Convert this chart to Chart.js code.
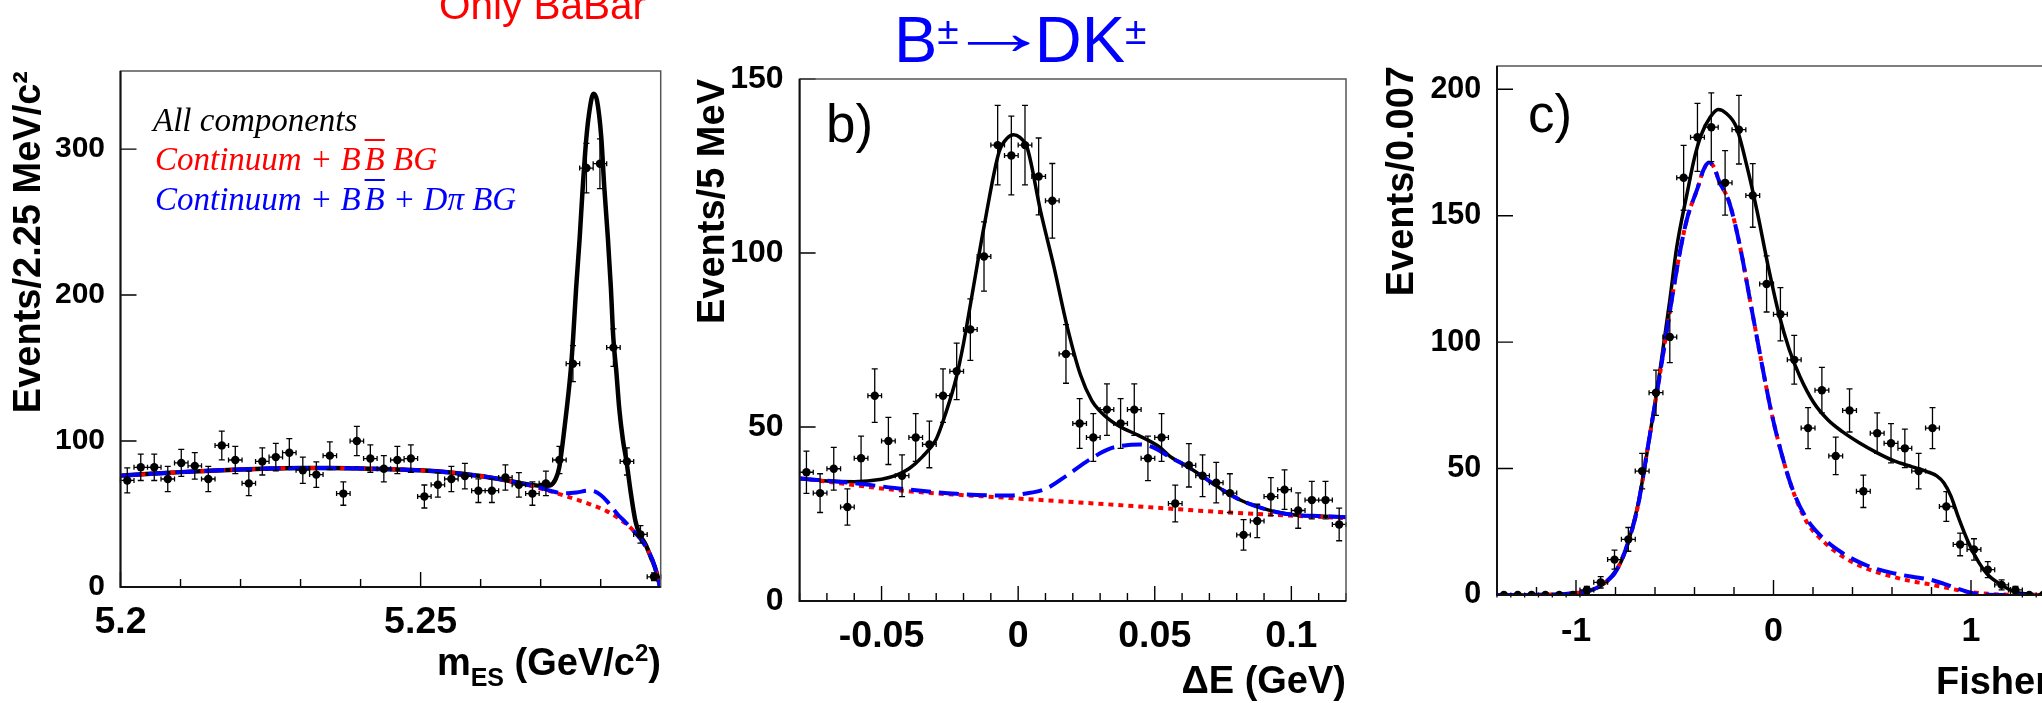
<!DOCTYPE html>
<html>
<head>
<meta charset="utf-8">
<script src="https://cdn.jsdelivr.net/npm/chart.js@4.4.1/dist/chart.umd.min.js"></script>
<style>
html,body{margin:0;padding:0;width:2042px;height:703px;overflow:hidden;background:#fff;}
.pane{position:absolute;top:0;}
.txt{position:absolute;white-space:nowrap;line-height:1;font-family:"Liberation Sans",Arial,sans-serif;}
.leg{position:absolute;white-space:nowrap;line-height:1;font-family:"Liberation Serif","Times New Roman",serif;font-style:italic;font-size:33px;}
.ov{text-decoration:overline;text-decoration-thickness:2px;}
.pm{font-size:39px;position:relative;top:-18px;}
.arr{display:inline-block;transform:translateY(-8px) scaleX(1.6);transform-origin:0 50%;margin-left:-12px;margin-right:23px;}
</style>
</head>
<body>
<div class="pane" style="left:0px;width:700px;height:703px"><canvas id="ca" width="700" height="703"></canvas></div>
<div class="pane" style="left:680px;width:690px;height:703px"><canvas id="cb" width="690" height="703"></canvas></div>
<div class="pane" style="left:1380px;width:720px;height:703px"><canvas id="cc" width="720" height="703"></canvas></div>

<div class="txt" style="left:439px;top:-15px;font-size:40.5px;color:#ff0000;">Only BaBar</div>
<div class="txt" style="left:894px;top:7px;font-size:65px;color:#0000ff;">B<span class="pm">±</span><span class="arr">→</span>DK<span class="pm">±</span></div>

<div class="leg" style="left:153px;top:104px;color:#000;">All components</div>
<div class="leg" style="left:155px;top:143px;color:#ff0000;">Continuum + B<span class="ov" style="margin-left:4px;">B</span> BG</div>
<div class="leg" style="left:155px;top:183px;color:#0000ff;">Continuum + B<span class="ov" style="margin-left:4px;">B</span> + Dπ BG</div>

<div class="txt" style="right:1381px;top:643px;font-size:38px;font-weight:bold;">m<span style="font-size:25px;position:relative;top:11px;">ES</span> (GeV/c<span style="font-size:24px;position:relative;top:-14px;">2</span>)</div>

<div class="txt" style="left:826px;top:97px;font-size:53px;">b)</div>
<div class="txt" style="left:1528px;top:87px;font-size:53px;">c)</div>

<script>
// ================= Panel a : m_ES =================
const aBinCenters = [5.201125,5.203375,5.205625,5.207875,5.210125,5.212375,5.214625,5.216875,5.219125,5.221375,
  5.223625,5.225875,5.228125,5.230375,5.232625,5.234875,5.237125,5.239375,5.241625,5.243875,
  5.246125,5.248375,5.250625,5.252875,5.255125,5.257375,5.259625,5.261875,5.264125,5.266375,
  5.268625,5.270875,5.273125,5.275375,5.277625,5.279875,5.282125,5.284375,5.286625,5.288875];
const aCounts = [73,82,82,74,85,83,74,97,87,71, 86,89,92,80,77,90,64,100,88,81,
  87,88,62,70,74,76,66,66,75,70, 64,71,87,153,287,290,164,86,36,7];
const aTotalX = [5.2000,5.2050,5.2100,5.2150,5.2200,5.2250,5.2300,5.2350,5.2400,5.2450,5.2500,5.2550,5.2600,5.2650,5.2680,5.2705,5.2715,5.2725,5.2731,5.2740,5.2750,5.2754,5.2759,5.2765,5.2770,5.2776,5.2782,5.2788,5.2794,5.2801,5.2806,5.2812,5.2817,5.2821,5.2826,5.2831,5.2837,5.2843,5.2850,5.2858,5.2865,5.2875,5.2884,5.2890,5.2895,5.2899];
const aTotalY = [76.3,77.6,78.7,79.7,80.5,81.1,81.5,81.5,81.2,80.7,80.0,78.5,76.0,72.5,70.2,69.2,69.5,74,82,110,148,170,204,239,273,307,328,338,333,308,274,239,205,171,148,122,101,86,65,45,36,29,20,14,7,0];
const aBkgDpiX = [5.2000,5.2100,5.2200,5.2300,5.2400,5.2500,5.2550,5.2600,5.2650,5.2680,5.2700,5.2720,5.2740,5.2760,5.2780,5.2790,5.2800,5.2810,5.2820,5.2830,5.2840,5.2850,5.2860,5.2870,5.2880,5.2886,5.2890,5.2895,5.2899];
const aBkgDpiY = [76.3,78.7,80.5,81.5,81.2,80.0,78.5,76.0,72.5,69.9,68.0,65.5,64.2,64.8,66.0,65.5,63.0,59.0,54.0,49.0,45.0,40.5,36.0,31.0,24.0,19.0,14.0,7.0,0];
const aBkgX = [5.2000,5.2100,5.2200,5.2300,5.2400,5.2500,5.2550,5.2600,5.2650,5.2700,5.2740,5.2780,5.2810,5.2830,5.2850,5.2870,5.2880,5.2890,5.2895,5.2899];
const aBkgY = [76.3,78.7,80.5,81.5,81.2,80.0,78.5,76.0,72.5,67.5,62.5,57.0,52.0,47.0,40.5,31.0,24.0,14.0,7.0,0];
const aXTicks = [5.20,5.21,5.22,5.23,5.24,5.25,5.26,5.27,5.28];
const aXLabelVals = [5.20,5.25];
const aXLabelText = ['5.2','5.25'];
const aYTicks = [0,100,200,300];
const aYTitle = 'Events/2.25 MeV/c\u00B2';

// ================= Panel b : Delta E =================
const bBinCenters = [-0.0775,-0.0725,-0.0675,-0.0625,-0.0575,-0.0525,-0.0475,-0.0425,-0.0375,-0.0325,
  -0.0275,-0.0225,-0.0175,-0.0125,-0.0075,-0.0025,0.0025,0.0075,0.0125,0.0175,
  0.0225,0.0275,0.0325,0.0375,0.0425,0.0475,0.0525,0.0575,0.0625,0.0675,
  0.0725,0.0775,0.0825,0.0875,0.0925,0.0975,0.1025,0.1075,0.1125,0.1175];
const bCounts = [37,31,38,27,41,59,46,36,47,45, 59,66,78,99,131,128,131,122,115,71,
  51,47,55,51,55,41,47,28,39,36, 34,31,19,23,30,32,26,29,29,22];
const bTotalX = [-0.0800,-0.0700,-0.0600,-0.0500,-0.0450,-0.0400,-0.0350,-0.0300,-0.0265,-0.0227,-0.0200,-0.0173,-0.0124,-0.0070,-0.0040,-0.0017,0.0005,0.0034,0.0082,0.0131,0.0179,0.0228,0.0270,0.0300,0.0336,0.0375,0.0440,0.0518,0.0557,0.0623,0.0688,0.0753,0.0819,0.0884,0.0949,0.1014,0.1100,0.1200];
const bTotalY = [35.1,34.5,34.3,35.0,36.0,38.0,41.5,46.5,54,64,74,86,108,129,133,134,133.3,130,112,96,79,65,57.5,54.5,52,50,47.6,44.2,41.5,38.5,35.1,31.7,28.8,26.9,25.5,24.7,24.4,24.1];
const bBkgDpiX = [-0.0800,-0.0604,-0.0422,-0.0226,-0.0030,0.0022,0.0100,0.0179,0.0257,0.0336,0.0414,0.0446,0.0492,0.0557,0.0623,0.0688,0.0753,0.0819,0.0884,0.0949,0.1014,0.1100,0.1200];
const bBkgDpiY = [35.2,33.9,32.2,30.8,30.3,30.8,32.2,36.1,40.4,43.8,44.9,45.0,44.2,41.3,38.5,35.1,31.7,28.8,26.9,25.5,24.7,24.4,24.1];
const bBkgX = [-0.0800,-0.0422,-0.0030,0.0362,0.0753,0.1200];
const bBkgY = [35.3,31.7,29.6,27.6,25.5,23.8];
const bXTicks = [-0.08,-0.07,-0.06,-0.05,-0.04,-0.03,-0.02,-0.01,0,0.01,0.02,0.03,0.04,0.05,0.06,0.07,0.08,0.09,0.10,0.11,0.12];
const bXLabelVals = [-0.05,0,0.05,0.10];
const bXLabelText = ['-0.05','0','0.05','0.1'];
const bYTicks = [0,50,100,150];
const bYTitle = 'Events/5 MeV';
const bXTitle = '\u0394E (GeV)';

// ================= Panel c : Fisher =================
const cBinCenters = [-1.365,-1.295,-1.225,-1.155,-1.085,-1.015,-0.945,-0.875,-0.805,-0.735,
  -0.665,-0.595,-0.525,-0.455,-0.385,-0.315,-0.245,-0.175,-0.105,-0.035,
  0.035,0.105,0.175,0.245,0.315,0.385,0.455,0.525,0.595,0.665,
  0.735,0.805,0.875,0.945,1.015,1.085,1.155,1.225,1.295,1.365];
const cCounts = [0,0,0,0,0,0,2,5,14,22, 49,80,102,165,181,185,163,184,158,123,
  111,93,66,81,55,73,41,64,60,58, 49,66,35,20,18,10,4,2,0,0];
const cTotalX = [-1.400,-1.100,-1.000,-0.920,-0.850,-0.795,-0.758,-0.731,-0.704,-0.687,-0.651,-0.633,-0.606,-0.580,-0.562,-0.526,-0.491,-0.437,-0.400,-0.366,-0.320,-0.280,-0.240,-0.188,-0.134,-0.081,-0.027,0.026,0.080,0.133,0.204,0.275,0.347,0.436,0.525,0.614,0.703,0.774,0.828,0.863,0.899,0.934,0.988,1.041,1.085,1.150,1.215,1.300,1.400];
const cTotalY = [0,0.2,0.8,2,5,10,15.5,22,30,35.5,51,60,73,86,96,116,137,159,173,182,189,192,190.5,185,169.4,151,130,111.5,97,86.5,76,69.3,64.7,60.1,56.2,52.9,50.7,48.9,47,44.3,39,31.2,20.6,12.7,8,4.2,1.4,0.3,0];
const cBkgDpiX = [-1.400,-1.100,-1.000,-0.920,-0.850,-0.793,-0.731,-0.687,-0.633,-0.580,-0.526,-0.473,-0.437,-0.384,-0.355,-0.327,-0.300,-0.277,-0.223,-0.170,-0.116,-0.063,-0.010,0.044,0.097,0.169,0.258,0.347,0.436,0.525,0.614,0.703,0.786,0.860,0.930,1.000,1.080,1.200,1.400];
const cBkgDpiY = [0,0.2,0.8,2,5,10,22,35,60,85,111.5,136,149,161,168,171,169,164,155,138,115.4,93,72,55,41.7,30,22,16.7,12.9,10.2,8.5,7.2,6.2,4.5,2.6,0.9,0.1,0,0];
const cBkgX = [-1.400,-1.100,-1.000,-0.920,-0.850,-0.793,-0.731,-0.687,-0.633,-0.580,-0.526,-0.473,-0.437,-0.384,-0.355,-0.327,-0.300,-0.277,-0.223,-0.170,-0.116,-0.063,-0.010,0.044,0.097,0.169,0.258,0.347,0.436,0.525,0.614,0.703,0.786,0.860,0.930,1.000,1.100,1.200,1.300,1.400];
const cBkgY = [0,0.2,0.8,2,5,10,22,35,60,85,111.5,136,149,161,168,171,169,164,155,138,115.4,93,72,55,41.5,28.8,20.8,15.4,11.6,9,7,5.4,4.3,3.1,2,1.1,0.4,0.1,0,0];
const cXTicks = [-1.4,-1.2,-1.0,-0.8,-0.6,-0.4,-0.2,0,0.2,0.4,0.6,0.8,1.0,1.2,1.4];
const cXLabelVals = [-1,0,1];
const cXLabelText = ['-1','0','1'];
const cYTicks = [0,50,100,150,200];
const cYTitle = 'Events/0.007';
const cXTitle = 'Fisher';

// ================= helpers =================
const FAM = "'Liberation Sans', Arial, Helvetica, sans-serif";
const pts = (xs, ys) => xs.map((x, i) => ({x: x, y: ys[i]}));
const near = (a, b) => Math.abs(a - b) < 1e-9;

const errorBars = {
  id: 'errorBars',
  afterDatasetsDraw(chart) {
    const {ctx, scales: {x, y}} = chart;
    chart.data.datasets.forEach(ds => {
      if (!ds.binHalf) return;
      ctx.save();
      ctx.strokeStyle = '#000';
      ctx.lineWidth = 1.3;
      ctx.beginPath();
      ds.data.forEach(p => {
        const px = x.getPixelForValue(p.x), py = y.getPixelForValue(p.y);
        const xl = x.getPixelForValue(p.x - ds.binHalf), xr = x.getPixelForValue(p.x + ds.binHalf);
        ctx.moveTo(xl, py); ctx.lineTo(xr, py);
        ctx.moveTo(xl, py - 2.5); ctx.lineTo(xl, py + 2.5);
        ctx.moveTo(xr, py - 2.5); ctx.lineTo(xr, py + 2.5);
        const e = Math.sqrt(p.y);
        if (e > 0) {
          const yt = y.getPixelForValue(p.y + e), yb = y.getPixelForValue(Math.max(p.y - e, 0));
          ctx.moveTo(px, yt); ctx.lineTo(px, yb);
          ctx.moveTo(px - 3, yt); ctx.lineTo(px + 3, yt);
          ctx.moveTo(px - 3, yb); ctx.lineTo(px + 3, yb);
        }
      });
      ctx.stroke();
      ctx.restore();
    });
  }
};

const rootFrame = {
  id: 'rootFrame',
  afterDraw(chart) {
    const {ctx, chartArea: ca, scales: {x, y}} = chart;
    ctx.save();
    ctx.strokeStyle = '#000';
    ctx.lineWidth = 1.4;
    ctx.beginPath();
    x.ticks.forEach(t => {
      const p = x.getPixelForValue(t.value);
      const len = t.isMajor ? 15 : 8;
      ctx.moveTo(p, ca.bottom); ctx.lineTo(p, ca.bottom - len);
    });
    y.ticks.forEach(t => {
      const p = y.getPixelForValue(t.value);
      ctx.moveTo(ca.left, p); ctx.lineTo(ca.left + 16, p);
    });
    ctx.stroke();
    ctx.strokeStyle = '#555';
    ctx.lineWidth = 1.5;
    ctx.strokeRect(ca.left, ca.top, ca.right - ca.left, ca.bottom - ca.top);
    ctx.strokeStyle = '#111';
    ctx.lineWidth = 2;
    ctx.beginPath();
    ctx.moveTo(ca.left, ca.top); ctx.lineTo(ca.left, ca.bottom); ctx.lineTo(ca.right, ca.bottom);
    ctx.stroke();
    ctx.restore();
  }
};

function makeChart(id, g) {
  const datasets = [
    {label: 'data', data: pts(g.bins, g.counts), binHalf: g.binHalf,
     pointRadius: 4.2, pointBackgroundColor: '#000', pointBorderColor: '#000', pointBorderWidth: 0, showLine: false},
    {label: 'Continuum + BB + Dpi BG', data: pts(g.dpiX, g.dpiY), showLine: true, pointRadius: 0,
     borderColor: '#0000ff', borderWidth: 4, borderDash: [20, 8], tension: 0.4, cubicInterpolationMode: 'monotone', fill: false},
    {label: 'Continuum + BB BG', data: pts(g.bkgX, g.bkgY), showLine: true, pointRadius: 0,
     borderColor: '#ff0000', borderWidth: 4, borderDash: [5, 5], tension: 0.4, cubicInterpolationMode: 'monotone', fill: false},
    {label: 'All components', data: pts(g.totX, g.totY), showLine: true, pointRadius: 0,
     borderColor: '#000', borderWidth: g.totWidth, tension: 0.4, cubicInterpolationMode: 'monotone', fill: false}
  ];
  return new Chart(document.getElementById(id), {
    type: 'scatter',
    data: {datasets: datasets},
    plugins: [errorBars, rootFrame],
    options: {
      responsive: false, animation: false, devicePixelRatio: 1, events: [],
      layout: {padding: {left: 0, top: g.top, right: g.right, bottom: 0}},
      plugins: {legend: {display: false}, tooltip: {enabled: false}},
      scales: {
        x: {
          type: 'linear', min: g.xMin, max: g.xMax,
          afterFit: s => { s.height = g.xAxisH; },
          afterBuildTicks: s => { s.ticks = g.xTicks.map(v => ({value: v, isMajor: g.xLabelVals.some(m => near(m, v))})); },
          grid: {display: false, drawTicks: false},
          border: {display: false},
          ticks: {
            autoSkip: false, maxRotation: 0, minRotation: 0, color: '#000', padding: g.xLabPad,
            font: {family: FAM, size: g.xLabSize, weight: 'bold', lineHeight: 1},
            callback: v => { const i = g.xLabelVals.findIndex(m => near(m, v)); return i >= 0 ? g.xLabelText[i] : ''; }
          },
          title: g.xTitle ? {display: true, text: g.xTitle, align: 'end', color: '#000',
            font: {family: FAM, size: 38, weight: 'bold', lineHeight: 1}, padding: {top: 0, bottom: g.xTitlePad}} : {display: false}
        },
        y: {
          type: 'linear', min: 0, max: g.yMax,
          afterFit: s => { s.width = g.yAxisW; },
          afterBuildTicks: s => { s.ticks = g.yTicks.map(v => ({value: v, isMajor: true})); },
          grid: {display: false, drawTicks: false},
          border: {display: false},
          ticks: {
            autoSkip: false, color: '#000', padding: g.yLabPad,
            font: {family: FAM, size: g.yLabSize, weight: 'bold', lineHeight: 1},
            callback: v => String(v)
          },
          title: {display: true, text: g.yTitle, align: 'end', color: '#000',
            font: {family: FAM, size: g.yTitleSize, weight: 'bold', lineHeight: 1}, padding: {top: g.yTitlePad, bottom: 0}}
        }
      }
    }
  });
}

makeChart('ca', {
  bins: aBinCenters, counts: aCounts, binHalf: 0.001125,
  totX: aTotalX, totY: aTotalY, dpiX: aBkgDpiX, dpiY: aBkgDpiY, bkgX: aBkgX, bkgY: aBkgY, totWidth: 4.5,
  xMin: 5.2, xMax: 5.29, yMax: 353.5,
  top: 71, right: 39.3, xAxisH: 116, yAxisW: 120.5,
  xTicks: aXTicks, xLabelVals: aXLabelVals, xLabelText: aXLabelText, xLabSize: 37.5, xLabPad: 16.5,
  yTicks: aYTicks, yLabSize: 30, yLabPad: 15.5,
  xTitle: null, xTitlePad: 0, yTitle: aYTitle, yTitleSize: 38, yTitlePad: 11
});

makeChart('cb', {
  bins: bBinCenters, counts: bCounts, binHalf: 0.0025,
  totX: bTotalX, totY: bTotalY, dpiX: bBkgDpiX, dpiY: bBkgDpiY, bkgX: bBkgX, bkgY: bBkgY, totWidth: 3.5,
  xMin: -0.08, xMax: 0.12, yMax: 150,
  top: 79, right: 24, xAxisH: 102, yAxisW: 119.6,
  xTicks: bXTicks, xLabelVals: bXLabelVals, xLabelText: bXLabelText, xLabSize: 37.5, xLabPad: 17,
  yTicks: bYTicks, yLabSize: 32, yLabPad: 16,
  xTitle: bXTitle, xTitlePad: 1, yTitle: bYTitle, yTitleSize: 38, yTitlePad: 15
});

makeChart('cc', {
  bins: cBinCenters, counts: cCounts, binHalf: 0.035,
  totX: cTotalX, totY: cTotalY, dpiX: cBkgDpiX, dpiY: cBkgDpiY, bkgX: cBkgX, bkgY: cBkgY, totWidth: 3.5,
  xMin: -1.4, xMax: 1.4, yMax: 209.2,
  top: 66, right: 50, xAxisH: 108, yAxisW: 117,
  xTicks: cXTicks, xLabelVals: cXLabelVals, xLabelText: cXLabelText, xLabSize: 34, xLabPad: 20,
  yTicks: cYTicks, yLabSize: 30.5, yLabPad: 15.7,
  xTitle: cXTitle, xTitlePad: 0, yTitle: cYTitle, yTitleSize: 38, yTitlePad: 4
});
</script>
</body>
</html>
